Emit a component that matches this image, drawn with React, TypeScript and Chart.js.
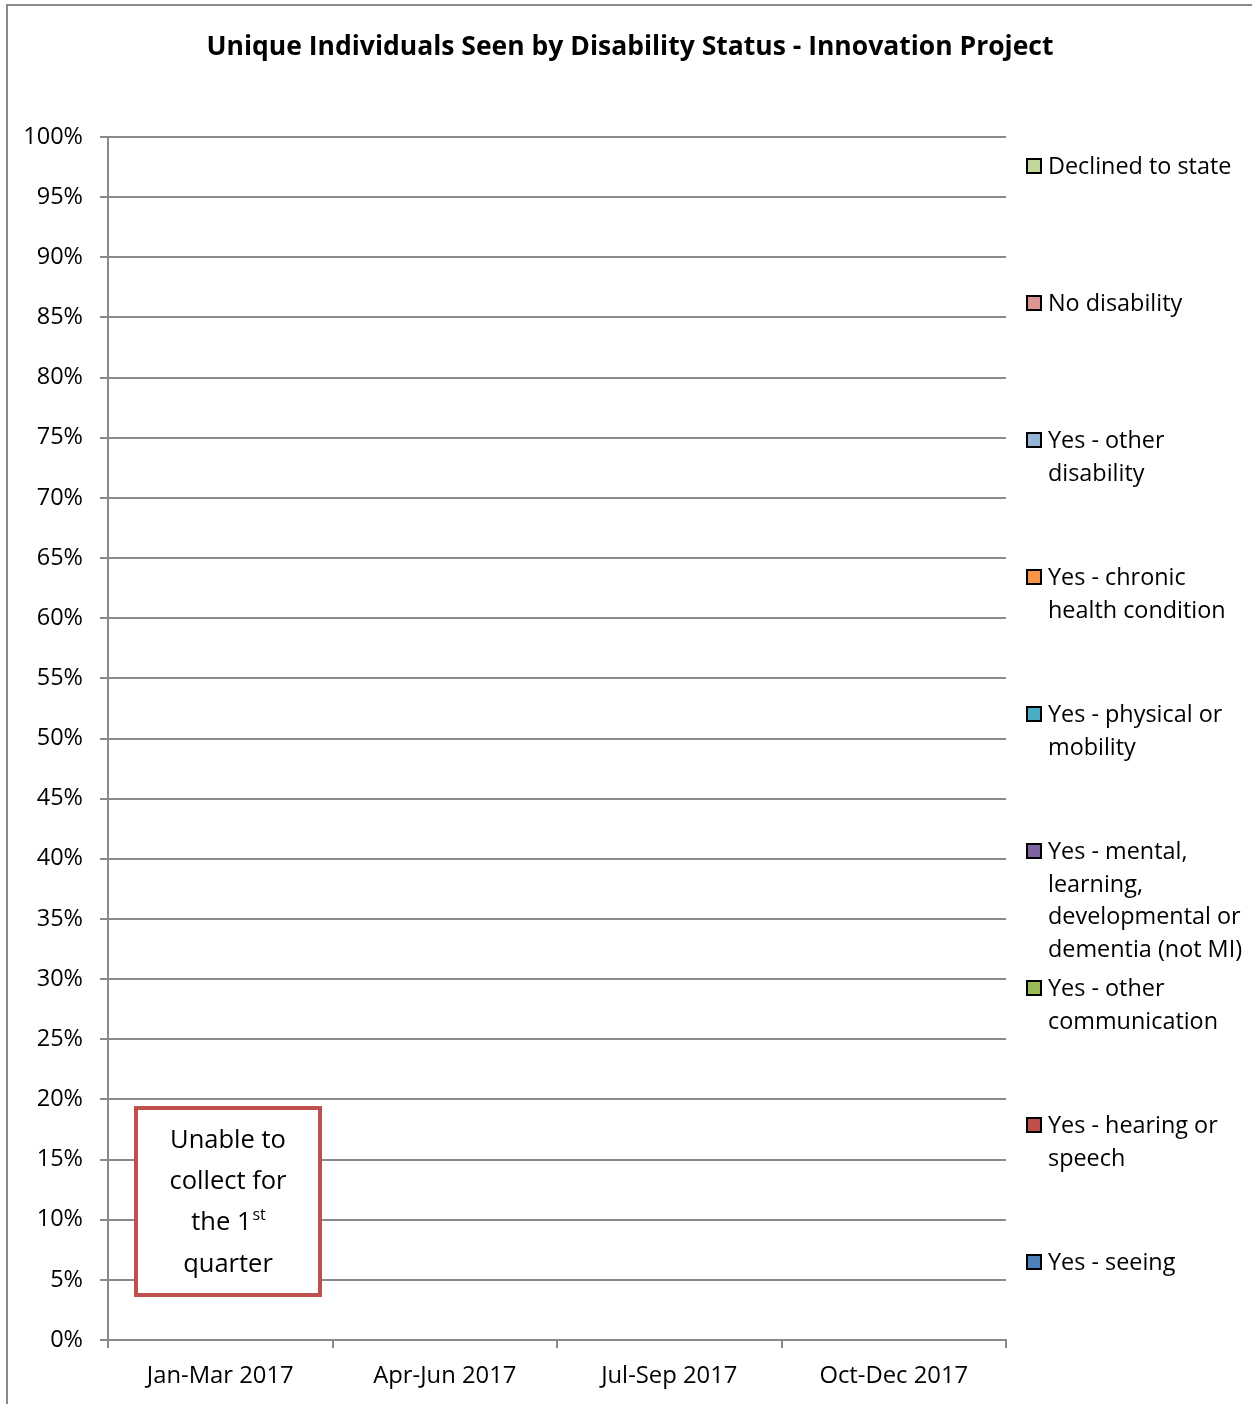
import React, { useEffect, useRef } from 'react';
import { Chart, registerables } from 'chart.js';

Chart.register(...registerables);

const chartTitle = 'Unique Individuals Seen by Disability Status - Innovation Project';
const quarters = ['Jan-Mar 2017', 'Apr-Jun 2017', 'Jul-Sep 2017', 'Oct-Dec 2017'];

// Stacked from bottom to top
const seriesNames = [
  'Yes - seeing',
  'Yes - hearing or\nspeech',
  'Yes - other\ncommunication',
  'Yes - mental,\nlearning,\ndevelopmental or\ndementia (not MI)',
  'Yes - physical or\nmobility',
  'Yes - chronic\nhealth condition',
  'Yes - other\ndisability',
  'No disability',
  'Declined to state',
];
const seriesColors = [
  '#4F81BD',
  '#C0504D',
  '#9BBB59',
  '#8064A2',
  '#4BACC6',
  '#F79646',
  '#95B3D7',
  '#D99694',
  '#C3D69B',
];

// No data collected (Q1) and no values shown for later quarters
const seeing = [null, 0, 0, 0];
const hearingSpeech = [null, 0, 0, 0];
const otherCommunication = [null, 0, 0, 0];
const mentalLearning = [null, 0, 0, 0];
const physicalMobility = [null, 0, 0, 0];
const chronicHealth = [null, 0, 0, 0];
const otherDisability = [null, 0, 0, 0];
const noDisability = [null, 0, 0, 0];
const declined = [null, 0, 0, 0];
const seriesValues = [
  seeing,
  hearingSpeech,
  otherCommunication,
  mentalLearning,
  physicalMobility,
  chronicHealth,
  otherDisability,
  noDisability,
  declined,
];

const yMin = 0;
const yMax = 1;
const yStep = 0.05;

const noteLines = ['Unable to', 'collect for', 'the 1', 'quarter'];
const noteSuperscript = 'st';

const FONT = '"Open Sans", Lato, sans-serif';
const GRID = '#8A8A8A';

const decorPlugin = {
  id: 'decor',
  beforeDraw(chart: any) {
    const ctx = chart.ctx;
    ctx.save();
    ctx.fillStyle = '#ffffff';
    ctx.fillRect(0, 0, chart.width, chart.height);
    ctx.strokeStyle = GRID;
    ctx.lineWidth = 2;
    ctx.beginPath();
    ctx.moveTo(7, chart.height);
    ctx.lineTo(7, 5);
    ctx.lineTo(chart.width, 5);
    ctx.stroke();
    // title
    ctx.fillStyle = '#000';
    ctx.font = `bold 26.5px ${FONT}`;
    ctx.textAlign = 'center';
    ctx.textBaseline = 'middle';
    ctx.fillText(chartTitle, 630, 47);
    ctx.restore();
  },
  afterDraw(chart: any) {
    const ctx = chart.ctx;
    const area = chart.chartArea;
    ctx.save();
    // legend (reverse order, top = last series)
    const n = chart.data.datasets.length;
    const startY = 166;
    const gap = 137;
    const boxX = area.right + 21;
    const textX = area.right + 42;
    ctx.font = `23.4px ${FONT}`;
    ctx.textAlign = 'left';
    ctx.textBaseline = 'middle';
    for (let i = 0; i < n; i++) {
      const ds = chart.data.datasets[n - 1 - i];
      const y = startY + i * gap;
      ctx.fillStyle = ds.backgroundColor;
      ctx.fillRect(boxX, y - 7, 14, 14);
      ctx.strokeStyle = '#000';
      ctx.lineWidth = 2;
      ctx.strokeRect(boxX, y - 7, 14, 14);
      ctx.fillStyle = '#000';
      const lines = String(ds.label).split('\n');
      lines.forEach((ln: string, k: number) => {
        ctx.fillText(ln, textX, y + 1.5 + k * 32.5);
      });
    }
    // annotation box
    const bx = area.left + 28;
    const by = 1108;
    const bw = 184;
    const bh = 187;
    ctx.fillStyle = '#fff';
    ctx.fillRect(bx, by, bw, bh);
    ctx.strokeStyle = '#C0504D';
    ctx.lineWidth = 4;
    ctx.strokeRect(bx, by, bw, bh);
    ctx.fillStyle = '#000';
    ctx.textBaseline = 'middle';
    const cx = bx + bw / 2;
    const lineYs = [1141, 1182, 1223, 1265];
    const big = 25.5;
    const small = 16;
    noteLines.forEach((ln, k) => {
      if (k === 2) {
        ctx.font = `${big}px ${FONT}`;
        const w1 = ctx.measureText(ln).width;
        ctx.font = `${small}px ${FONT}`;
        const w2 = ctx.measureText(noteSuperscript).width;
        const x0 = cx - (w1 + w2) / 2;
        ctx.textAlign = 'left';
        ctx.font = `${big}px ${FONT}`;
        ctx.fillText(ln, x0, lineYs[k]);
        ctx.font = `${small}px ${FONT}`;
        ctx.fillText(noteSuperscript, x0 + w1 + 1, lineYs[k] - 8);
      } else {
        ctx.textAlign = 'center';
        ctx.font = `${big}px ${FONT}`;
        ctx.fillText(ln, cx, lineYs[k]);
      }
    });
    ctx.restore();
  },
};

export default function App() {
  const ref = useRef<HTMLCanvasElement>(null);
  useEffect(() => {
    if (!ref.current) return;
    const chart = new Chart(ref.current, {
      type: 'bar',
      data: {
        labels: quarters,
        datasets: seriesNames.map((name, i) => ({
          label: name,
          data: seriesValues[i],
          backgroundColor: seriesColors[i],
          borderWidth: 0,
          stack: 's',
        })),
      },
      options: {
        responsive: false,
        animation: false,
        events: [],
        layout: { padding: { top: 137, right: 246, left: 0, bottom: 0 } },
        plugins: {
          legend: { display: false },
          title: { display: false },
          tooltip: { enabled: false },
        },
        scales: {
          x: {
            stacked: true,
            afterFit: (s: any) => {
              s.height = 64;
            },
            grid: {
              offset: true,
              drawOnChartArea: false,
              drawTicks: true,
              tickLength: 8,
              color: GRID,
              lineWidth: 2,
            },
            border: { display: true, color: GRID, width: 2 },
            ticks: {
              color: '#000',
              font: { family: FONT, size: 23.8 },
              padding: 14,
              maxRotation: 0,
            },
          },
          y: {
            stacked: true,
            min: yMin,
            max: yMax,
            afterFit: (s: any) => {
              s.width = 108;
            },
            grid: {
              color: GRID,
              lineWidth: 2,
              drawTicks: true,
              tickLength: 8,
            },
            border: { display: true, color: GRID, width: 2 },
            ticks: {
              stepSize: yStep,
              color: '#000',
              font: { family: FONT, size: 23.5 },
              padding: 17,
              callback: (v: any) => `${Math.round(Number(v) * 100)}%`,
            },
          },
        },
      },
      plugins: [decorPlugin],
    });
    return () => chart.destroy();
  }, []);
  return (
    <div style={{ position: 'absolute', left: 0, top: 0, width: 1252, height: 1404 }}>
      <canvas ref={ref} width={1252} height={1404} style={{ display: 'block' }} />
    </div>
  );
}
